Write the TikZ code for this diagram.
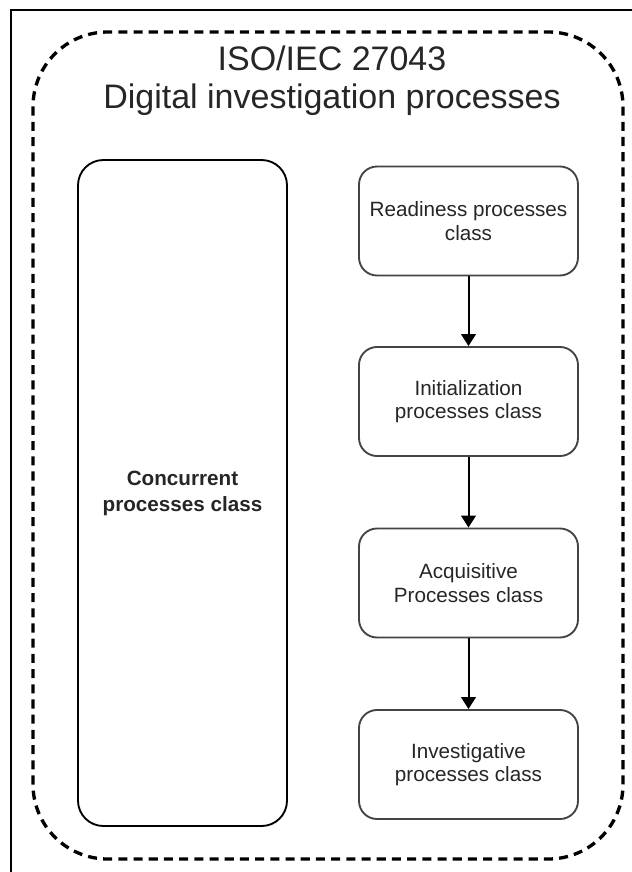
\documentclass[tikz,border=0pt]{standalone}
\usepackage{fontspec}
\setmainfont{Liberation Sans}
\usetikzlibrary{arrows.meta}
\definecolor{inktext}{HTML}{262626}
\definecolor{boxline}{HTML}{444444}
\tikzset{
  px/.style={x=0.75pt,y=-0.75pt},
  frameline/.style={draw=black,line width=1.5pt},
  groupline/.style={draw=black,line width=2.5pt,dash pattern=on 6.8pt off 4.6pt,rounded corners=56pt},
  classbox/.style={draw=boxline,line width=1.4pt,rounded corners=13.5pt,fill=white,
    minimum width=164.25pt,minimum height=81.75pt,align=center,text=inktext,
    font=\fontsize{15.5}{17.5}\selectfont,inner sep=0pt},
  flow/.style={draw=black,line width=1.5pt,-{Triangle[length=9pt,width=11pt]}}
}
\begin{document}
\begin{tikzpicture}[px]
  \useasboundingbox (0,0) rectangle (632,872);
  \clip (0,0) rectangle (632,872);
  \fill[white] (0,0) rectangle (632,872);
  % outer frame
  \path[frameline] (11,10) rectangle (660,900);
  % standard group outline
  \path[groupline] (33,32) rectangle (623,859);
  \node[text=inktext,align=center,font=\fontsize{25.5}{28.5}\selectfont] (title) at (332,81)
    {ISO/IEC 27043\\Digital investigation processes};
  % concurrent class, spanning the whole column
  \node[draw=black,line width=1.4pt,rounded corners=19pt,minimum width=156.75pt,minimum height=499.5pt,
    align=center,text=inktext,font=\bfseries\fontsize{15.5}{19.5}\selectfont,inner sep=0pt]
    (conc) at (182.5,493) {Concurrent\\processes class};
  % sequential classes
  \node[classbox] (ready) at (468.5,221) {Readiness processes\\class};
  \node[classbox] (init)  at (468.5,401.5) {Initialization\\processes class};
  \node[classbox] (acq)   at (468.5,583) {Acquisitive\\Processes class};
  \node[classbox] (inv)   at (468.5,764.5) {Investigative\\processes class};
  \draw[flow] (ready) -- (init);
  \draw[flow] (init) -- (acq);
  \draw[flow] (acq) -- (inv);
\end{tikzpicture}
\end{document}
